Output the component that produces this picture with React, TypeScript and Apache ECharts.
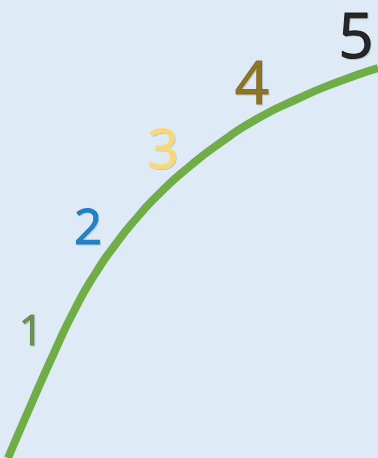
import React, { useEffect, useRef } from "react";
import * as echarts from "echarts";

// Curve points (x to the right, y upward, in chart units)
const curveX = [8, 30, 54, 75, 95, 115, 135, 160, 190, 220, 255, 295, 335, 378];
const curveY = [0, 51, 105, 149, 184, 213, 238, 265, 292, 315, 338, 358, 375, 390];

// Number labels
const labelText = ["1", "2", "3", "4", "5"];
const labelX = [31, 88, 163, 252, 356];
const labelY = [130, 233, 311, 377, 424];
const labelColors = ["#548235", "#0070c0", "#ffd966", "#7f6000", "#000000"];
const labelSizes = [42, 49, 54, 60, 62];

export default function App() {
  const ref = useRef<HTMLDivElement>(null);
  useEffect(() => {
    document.body.style.margin = "0";
    const chart = echarts.init(ref.current!, null, { renderer: "svg" });
    chart.setOption({
      animation: false,
      backgroundColor: "#deeaf6",
      grid: { left: 0, right: 0, top: 0, bottom: 0 },
      xAxis: { type: "value", min: 0, max: 378, show: false },
      yAxis: { type: "value", min: 0, max: 458, show: false },
      series: [
        {
          type: "line",
          smooth: 0.6,
          symbol: "none",
          clip: false,
          data: curveX.map((x, i) => [x, curveY[i]]),
          lineStyle: { color: "#70ad47", width: 8, cap: "butt" },
        },
        {
          type: "scatter",
          symbolSize: 0,
          data: labelText.map((t, i) => ({
            value: [labelX[i], labelY[i]],
            label: {
              show: true,
              position: "inside",
              formatter: t,
              color: labelColors[i],
              fontSize: labelSizes[i],
              lineHeight: Math.round(labelSizes[i] * 0.8),
              fontFamily: "Open Sans",
              fontWeight: "normal",
              textBorderColor: labelColors[i],
              textBorderWidth: 1,
              textShadowColor: "rgba(0,0,0,0.2)",
              textShadowBlur: 1,
              textShadowOffsetX: 1,
              textShadowOffsetY: 1,
            },
          })),
        },
      ],
    });
    return () => chart.dispose();
  }, []);
  return <div ref={ref} style={{ width: 378, height: 458 }} />;
}
